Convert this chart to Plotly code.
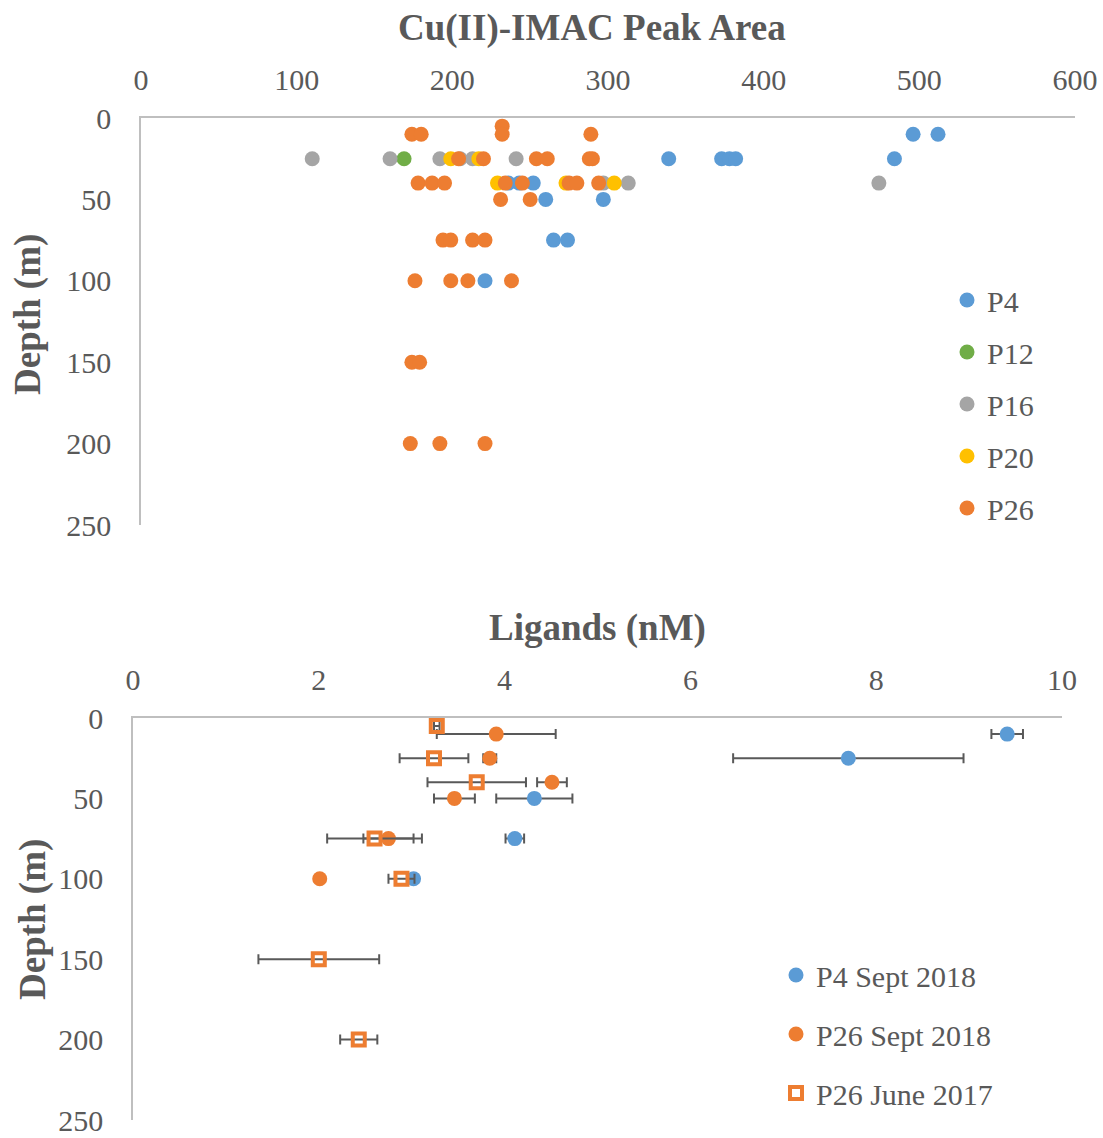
import plotly.graph_objects as go

# ---------------- Data: Cu(II)-IMAC peak area ----------------
p4_area = [496, 512, 484, 339, 373, 378, 382, 236, 243, 252, 260, 297, 265, 274, 221]
p4_depth = [10, 10, 25, 25, 25, 25, 25, 40, 40, 40, 50, 50, 75, 75, 100]
p12_area = [169]
p12_depth = [25]
p16_area = [110, 160, 192, 205, 213, 241, 297, 313, 474]
p16_depth = [25, 25, 25, 25, 25, 25, 40, 40, 40]
p20_area = [199, 217, 229, 273, 304]
p20_depth = [25, 25, 40, 40, 40]
p26_area = [232, 174, 180, 232, 289, 204, 220, 254, 261, 288, 290,
            178, 187, 195, 234, 245, 275, 280, 294, 231, 250,
            194, 199, 213, 221, 176, 199, 210, 238, 174, 179, 173, 192, 221]
p26_depth = [5, 10, 10, 10, 10, 25, 25, 25, 25, 25, 25,
             40, 40, 40, 40, 40, 40, 40, 40, 50, 50,
             75, 75, 75, 75, 100, 100, 100, 100, 150, 150, 200, 200, 200]

# ---------------- Data: Ligands (nM) ----------------
p4s_lig = [9.41, 7.70, 4.32, 4.11, 3.02]
p4s_err = [0.17, 1.24, 0.41, 0.10, 0.05]
p4s_depth = [10, 25, 50, 75, 100]
p26s_lig = [3.91, 3.84, 4.51, 3.46, 2.75, 2.01]
p26s_err = [0.64, 0.07, 0.16, 0.22, 0.27, 0.0]
p26s_depth = [10, 25, 40, 50, 75, 100]
p26j_lig = [3.27, 3.24, 3.70, 2.60, 2.89, 2.00, 2.43]
p26j_err = [0.03, 0.37, 0.53, 0.51, 0.14, 0.65, 0.20]
p26j_depth = [5, 25, 40, 75, 100, 150, 200]

BLUE = "#5B9BD5"
ORANGE = "#ED7D31"
GRAY = "#A5A5A5"
YELLOW = "#FFC000"
GREEN = "#70AD47"
TXT = "#595959"
AX = "#BFBFBF"
FONT = "Liberation Serif"

W, H = 1103, 1138

fig = go.Figure()

def top_trace(x, y, name, color, grp):
    fig.add_trace(go.Scatter(
        x=x, y=y, name=name, mode="markers", xaxis="x", yaxis="y",
        marker=dict(color=color, size=15, line=dict(width=0)),
        legend="legend", legendgroup=grp))

top_trace(p4_area, p4_depth, "P4", BLUE, "a")
top_trace(p12_area, p12_depth, "P12", GREEN, "b")
top_trace(p16_area, p16_depth, "P16", GRAY, "c")
top_trace(p20_area, p20_depth, "P20", YELLOW, "d")
top_trace(p26_area, p26_depth, "P26", ORANGE, "e")

err_style = dict(type="data", color=TXT, thickness=2, width=5, visible=True)

fig.add_trace(go.Scatter(
    x=p4s_lig, y=p4s_depth, name="P4 Sept 2018", mode="markers", xaxis="x2", yaxis="y2",
    marker=dict(color=BLUE, size=15, line=dict(width=0)),
    error_x=dict(array=p4s_err, **err_style), legend="legend2", legendgroup="f"))
fig.add_trace(go.Scatter(
    x=p26s_lig, y=p26s_depth, name="P26 Sept 2018", mode="markers", xaxis="x2", yaxis="y2",
    marker=dict(color=ORANGE, size=15, line=dict(width=0)),
    error_x=dict(array=p26s_err, **err_style), legend="legend2", legendgroup="g"))
fig.add_trace(go.Scatter(
    x=p26j_lig, y=p26j_depth, name="P26 June 2017", mode="markers", xaxis="x2", yaxis="y2",
    marker=dict(color=ORANGE, size=12, symbol="square-open", line=dict(width=4, color=ORANGE)),
    error_x=dict(array=p26j_err, **err_style), legend="legend2", legendgroup="h"))

def py(pix):
    return 1 - pix / H

def px(pix):
    return pix / W

axis_common = dict(showgrid=False, zeroline=False, showline=True, linecolor=AX, linewidth=1.5,
                   ticks="", tickfont=dict(family=FONT, size=30, color=TXT), automargin=False,
                   ticklabeloverflow="allow")

fig.update_layout(
    width=W, height=H,
    margin=dict(l=0, r=0, t=0, b=0),
    paper_bgcolor="white", plot_bgcolor="white",
    font=dict(family=FONT, color=TXT),
    xaxis=dict(domain=[px(141), px(1075)], range=[0, 600], dtick=100, side="top",
               anchor="y", ticklabelstandoff=14, **axis_common),
    yaxis=dict(domain=[py(525), py(118)], range=[250, 0], dtick=50, anchor="x",
               ticklabelstandoff=22, **axis_common),
    xaxis2=dict(domain=[px(133), px(1062)], range=[0, 10], dtick=2, side="top",
                anchor="y2", ticklabelstandoff=14, **axis_common),
    yaxis2=dict(domain=[py(1120), py(718)], range=[250, 0], dtick=50, anchor="x2",
                ticklabelstandoff=22, **axis_common),
    legend=dict(x=px(947), y=py(274), xanchor="left", yanchor="top",
                font=dict(family=FONT, size=30, color=TXT), bgcolor="rgba(0,0,0,0)",
                tracegroupgap=10, itemsizing="trace"),
    legend2=dict(x=px(776), y=py(949), xanchor="left", yanchor="top",
                 font=dict(family=FONT, size=30, color=TXT), bgcolor="rgba(0,0,0,0)",
                 tracegroupgap=17, itemsizing="trace"),
    annotations=[
        dict(text="<b>Cu(II)-IMAC Peak Area</b>", x=px(592), y=py(28), xref="paper", yref="paper",
             showarrow=False, xanchor="center", yanchor="middle",
             font=dict(family=FONT, size=37, color=TXT)),
        dict(text="<b>Ligands (nM)</b>", x=px(597), y=py(628), xref="paper", yref="paper",
             showarrow=False, xanchor="center", yanchor="middle",
             font=dict(family=FONT, size=37, color=TXT)),
        dict(text="<b>Depth (m)</b>", x=px(28), y=py(315), xref="paper", yref="paper",
             showarrow=False, xanchor="center", yanchor="middle", textangle=-90,
             font=dict(family=FONT, size=37, color=TXT)),
        dict(text="<b>Depth (m)</b>", x=px(33), y=py(920), xref="paper", yref="paper",
             showarrow=False, xanchor="center", yanchor="middle", textangle=-90,
             font=dict(family=FONT, size=37, color=TXT)),
    ],
)

fig.write_html("out.html")
